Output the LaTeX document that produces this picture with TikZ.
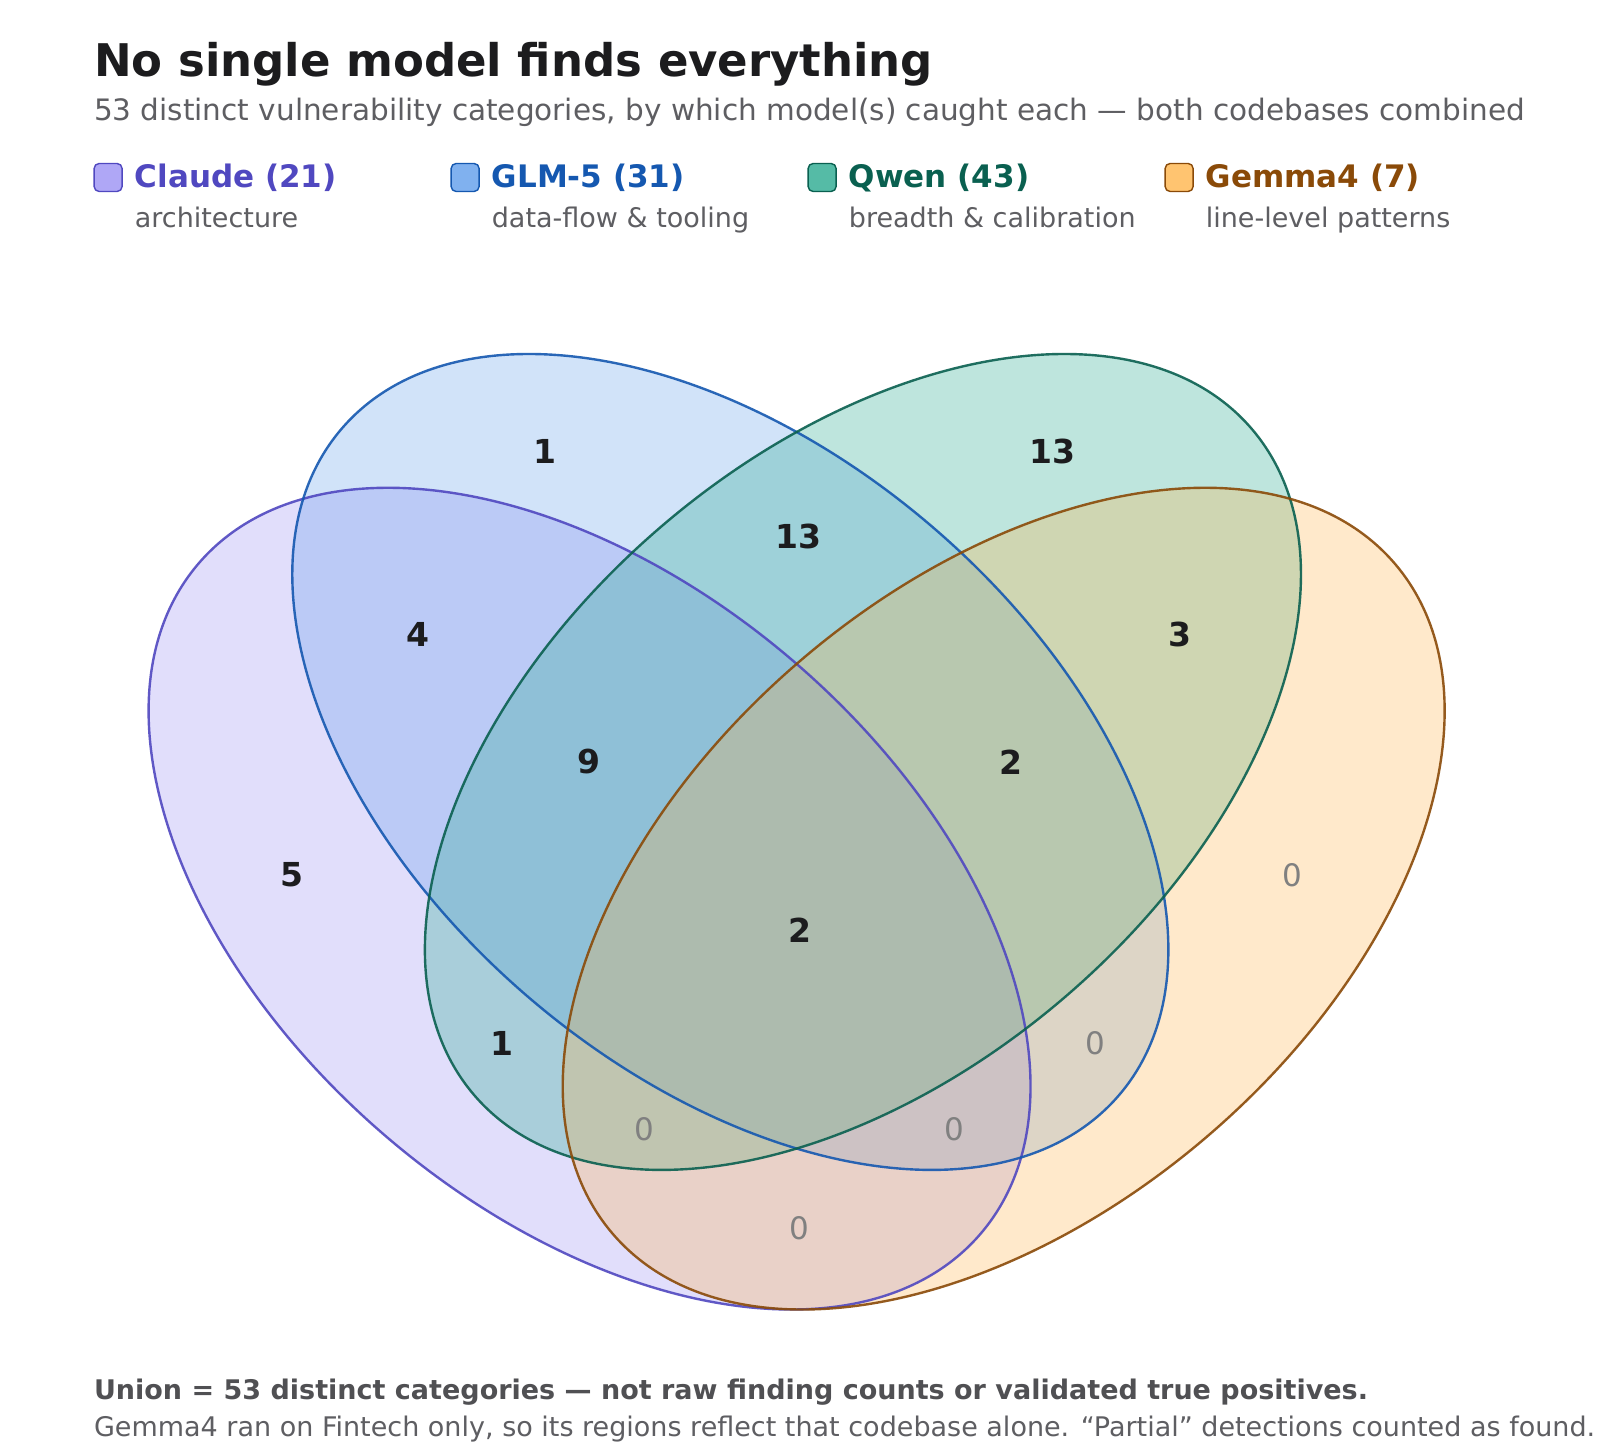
\documentclass[tikz,border=0pt]{standalone}
\usepackage{fontspec}
\setmainfont{DejaVu Sans}
\begin{document}
\definecolor{cS}{HTML}{5048C0}\definecolor{cF}{HTML}{7A6CF0}
\definecolor{gS}{HTML}{1558B0}\definecolor{gF}{HTML}{4A90E8}
\definecolor{qS}{HTML}{0A6050}\definecolor{qF}{HTML}{2AAA90}
\definecolor{mS}{HTML}{8A4A08}\definecolor{mF}{HTML}{FFB040}
\definecolor{ink}{HTML}{1C1C1E}\definecolor{sub}{HTML}{5E5E62}
\begin{tikzpicture}[x=1.02pt,y=1.02pt,
  ell/.style={line width=2.4pt},
  num/.style={font=\fontsize{33}{38}\selectfont\bfseries,text=ink},
  zero/.style={font=\fontsize{31}{36}\selectfont,text=gray},
  leg/.style={font=\fontsize{31}{36}\selectfont\bfseries,anchor=base west},
  legsub/.style={font=\fontsize{27}{32}\selectfont,text=sub,anchor=base west},
  box/.style={rounded corners=5pt,line width=1.4pt,minimum size=28pt,inner sep=0pt}]
\useasboundingbox[fill=white] (0pt,-1449pt) rectangle (1600pt,0pt);
\node[anchor=base west,font=\fontsize{45}{50}\selectfont\bfseries,text=ink,inner sep=0pt] (title) at (92,-75) {No single model finds everything};
\node[anchor=base west,font=\fontsize{29.5}{34}\selectfont,text=sub,inner sep=0pt] (subt) at (92,-118) {53 distinct vulnerability categories, by which model(s) caught each — both codebases combined};
% legend
\node[box,draw=cS,fill=cF!60] (b1) at (106,-174) {};
\node[leg,text=cS,inner sep=0pt] (l1) at (132,-184) {Claude (21)};
\node[legsub,inner sep=0pt] (s1) at (132,-223) {architecture};
\node[box,draw=gS,fill=gF!70] (b2) at (456,-174) {};
\node[leg,text=gS,inner sep=0pt] (l2) at (482,-184) {GLM-5 (31)};
\node[legsub,inner sep=0pt] (s2) at (482,-223) {data-flow \& tooling};
\node[box,draw=qS,fill=qF!80] (b3) at (806,-174) {};
\node[leg,text=qS,inner sep=0pt] (l3) at (832,-184) {Qwen (43)};
\node[legsub,inner sep=0pt] (s3) at (832,-223) {breadth \& calibration};
\node[box,draw=mS,fill=mF!75] (b4) at (1156,-174) {};
\node[leg,text=mS,inner sep=0pt] (l4) at (1182,-184) {Gemma4 (7)};
\node[legsub,inner sep=0pt] (s4) at (1182,-223) {line-level patterns};
% ellipses
\fill[cF,fill opacity=0.22,rotate around={-40.6:(578,-881)}] (578,-881) ellipse [x radius=515pt,y radius=313pt];
\fill[gF,fill opacity=0.25,rotate around={-40.6:(716,-747)}] (716,-747) ellipse [x radius=512pt,y radius=310pt];
\fill[qF,fill opacity=0.30,rotate around={40.6:(846,-747)}] (846,-747) ellipse [x radius=512pt,y radius=310pt];
\fill[mF,fill opacity=0.27,rotate around={40.6:(984,-881)}] (984,-881) ellipse [x radius=515pt,y radius=313pt];
\draw[ell,cS,draw opacity=0.9,rotate around={-40.6:(578,-881)}] (578,-881) ellipse [x radius=515pt,y radius=313pt];
\draw[ell,gS,draw opacity=0.9,rotate around={-40.6:(716,-747)}] (716,-747) ellipse [x radius=512pt,y radius=310pt];
\draw[ell,qS,draw opacity=0.9,rotate around={40.6:(846,-747)}] (846,-747) ellipse [x radius=512pt,y radius=310pt];
\draw[ell,mS,draw opacity=0.9,rotate around={40.6:(984,-881)}] (984,-881) ellipse [x radius=515pt,y radius=313pt];
% numbers
\node[num] (n1) at (534,-443) {1};
\node[num] (n2) at (1032,-443) {13};
\node[num] (n3) at (783,-526) {13};
\node[num] (n4) at (410,-622) {4};
\node[num] (n5) at (1157,-622) {3};
\node[num] (n6) at (577,-747) {9};
\node[num] (n7) at (991,-747) {2};
\node[num] (n8) at (286,-858) {5};
\node[zero] (n9) at (1267,-858) {0};
\node[num] (n10) at (784,-912) {2};
\node[num] (n11) at (492,-1023) {1};
\node[zero] (n12) at (1074,-1023) {0};
\node[zero] (n13) at (632,-1107) {0};
\node[zero] (n14) at (936,-1107) {0};
\node[zero] (n15) at (784,-1204) {0};
% footer
\node[anchor=base west,font=\fontsize{27}{31}\selectfont\bfseries,text=sub!85!black,inner sep=0pt] (f1) at (92,-1372) {Union = 53 distinct categories — not raw finding counts or validated true positives.};
\node[anchor=base west,font=\fontsize{27}{31}\selectfont,text=sub,inner sep=0pt] (f2) at (92,-1408) {Gemma4 ran on Fintech only, so its regions reflect that codebase alone. “Partial” detections counted as found.};
\end{tikzpicture}
\end{document}
